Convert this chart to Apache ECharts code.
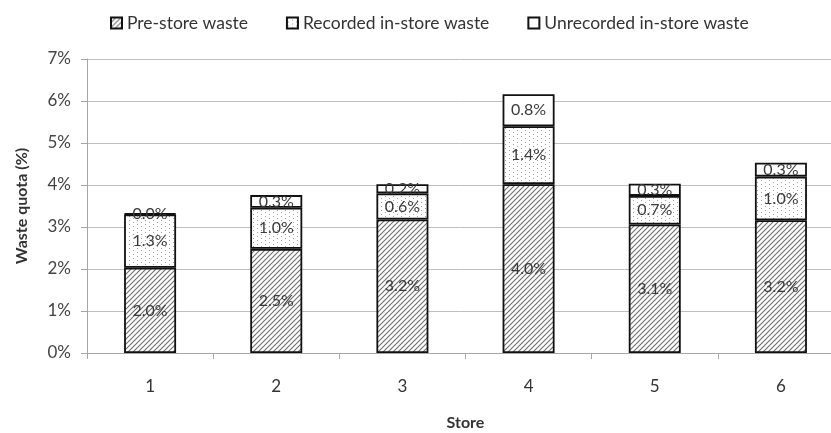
<!DOCTYPE html>
<html><head><meta charset="utf-8">
<script src="https://cdn.jsdelivr.net/npm/echarts@6/dist/echarts.min.js"></script>
<style>html,body{margin:0;padding:0;background:#fff}#c{width:831px;height:433px}</style>
</head><body><div id="c"></div>
<script>
const stores = ['1','2','3','4','5','6'];
const preStore = [2.03, 2.48, 3.18, 4.02, 3.06, 3.16];
const recorded = [1.27, 0.98, 0.62, 1.38, 0.68, 1.04];
const unrecorded = [0.02, 0.30, 0.22, 0.76, 0.29, 0.33];
const seriesNames = ['Pre-store waste', 'Recorded in-store waste', 'Unrecorded in-store waste'];
const yTicks = [0,1,2,3,4,5,6,7];

function hatch(){
  const c = document.createElement('canvas'); c.width = 5; c.height = 5;
  const g = c.getContext('2d');
  g.fillStyle = '#fff'; g.fillRect(0,0,5,5);
  g.strokeStyle = '#6e6e6e'; g.lineWidth = 1.1;
  g.beginPath();
  g.moveTo(-1,6); g.lineTo(6,-1);
  g.moveTo(-1,1); g.lineTo(1,-1);
  g.moveTo(4,6); g.lineTo(6,4);
  g.stroke();
  return c;
}
function dots(){
  const c = document.createElement('canvas'); c.width = 8; c.height = 4;
  const g = c.getContext('2d');
  g.fillStyle = '#fff'; g.fillRect(0,0,8,4);
  g.fillStyle = '#a0a0a0';
  g.fillRect(1,0,1,1); g.fillRect(5,2,1,1);
  return c;
}
const chart = echarts.init(document.getElementById('c'));
const font = 'Lato';
function lbl(){ return {show:true, position:'inside', color:'#3a3a3a', fontFamily:font, fontSize:16,
  formatter: p => p.value.toFixed(1) + '%'}; }
const colors = [{image:hatch(), repeat:'repeat'}, {image:dots(), repeat:'repeat'}, '#ffffff'];
const datas = [preStore, recorded, unrecorded];
chart.setOption({
  animation:false,
  textStyle:{fontFamily:font},
  legend:{top:9, left:105, itemWidth:11, itemHeight:11, itemGap:38,
    textStyle:{fontFamily:font, fontSize:17.5, color:'#333'},
    data: seriesNames.map(n=>({name:n, icon:'rect'}))},
  grid:{left:87, right:-13, top:59, bottom:80, containLabel:false, outerBoundsMode:'none'},
  xAxis:{type:'category', data:stores, name:'Store', nameLocation:'middle', nameGap:62,
    nameTextStyle:{fontFamily:font, fontWeight:'bold', fontSize:16, color:'#333'},
    axisLine:{lineStyle:{color:'#a6a6a6'}},
    axisTick:{show:true, length:6, lineStyle:{color:'#a6a6a6'}},
    axisLabel:{fontFamily:font, fontSize:17, color:'#333', margin:25}},
  yAxis:{type:'value', min:yTicks[0], max:yTicks[yTicks.length-1], interval:1,
    name:'Waste quota (%)', nameLocation:'middle', nameGap:57,
    nameTextStyle:{fontFamily:font, fontWeight:'bold', fontSize:16, color:'#333'},
    axisLine:{show:true, lineStyle:{color:'#a6a6a6'}},
    axisTick:{show:true, length:6, lineStyle:{color:'#a6a6a6'}},
    splitLine:{lineStyle:{color:'#bfbfbf'}},
    axisLabel:{fontFamily:font, fontSize:17, color:'#444', margin:16, formatter:v=>v+'%'}},
  series: seriesNames.map((n,i)=>({
    name:n, type:'bar', stack:'s', data:datas[i], barWidth:52,
    itemStyle:{color:colors[i], borderColor:'#111', borderWidth:1.8},
    label:lbl()
  }))
});
</script></body></html>
